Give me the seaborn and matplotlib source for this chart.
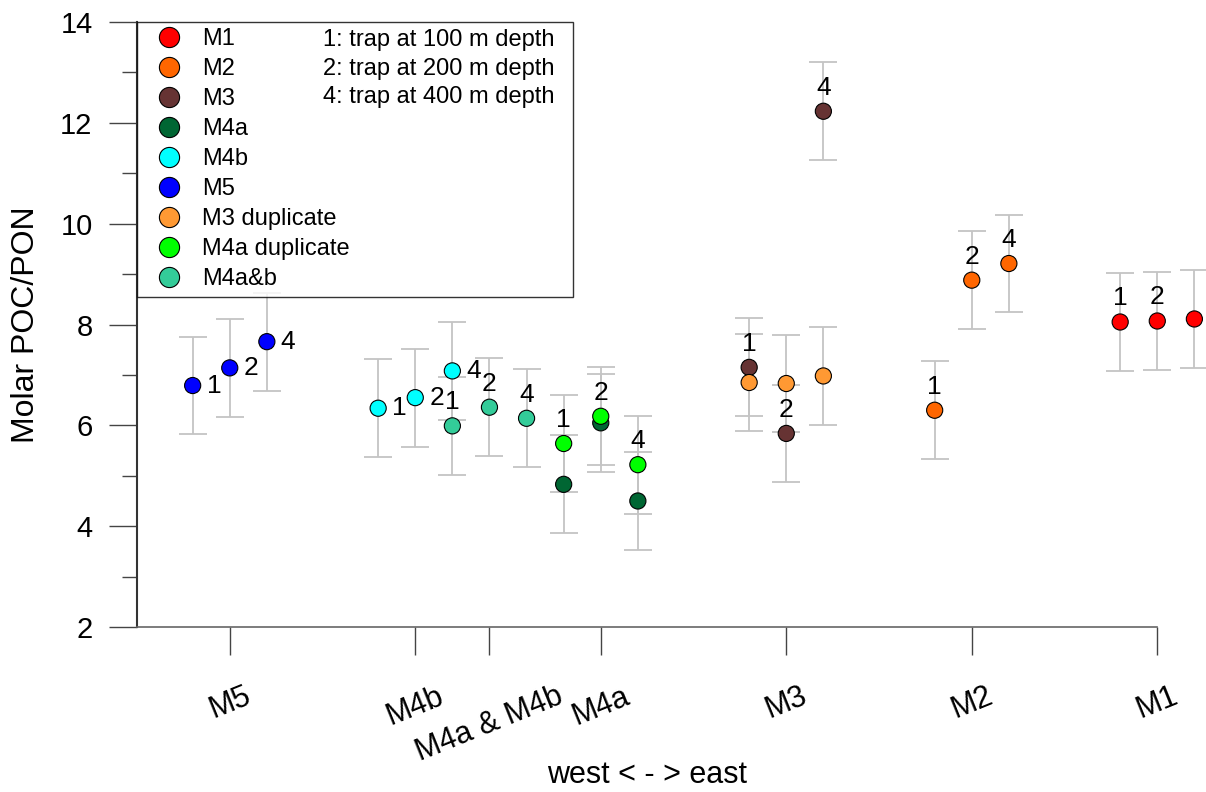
import numpy as np
import pandas as pd
import matplotlib
matplotlib.use('Agg')
import matplotlib.pyplot as plt
import seaborn as sns

# stations along the transect, west to east
stations = ['M5', 'M4b', 'M4a & M4b', 'M4a', 'M3', 'M2', 'M1']
station_pos = [1, 2, 2.4, 3, 4, 5, 6]

# series shown in the legend
series_order = ['M1', 'M2', 'M3', 'M4a', 'M4b', 'M5',
                'M3 duplicate', 'M4a duplicate', 'M4a&b']
series_colors = ['#ff0000', '#ff6600', '#663333', '#006633', '#00ffff',
                 '#0000ff', '#ff9933', '#00ff00', '#33cc99']
series_station = {'M1': 'M1', 'M2': 'M2', 'M3': 'M3', 'M4a': 'M4a',
                  'M4b': 'M4b', 'M5': 'M5', 'M3 duplicate': 'M3',
                  'M4a duplicate': 'M4a', 'M4a&b': 'M4a & M4b'}

# measurements (draw order: duplicates last so they sit on top)
point_series = ['M5', 'M5', 'M5',
                'M4b', 'M4b', 'M4b',
                'M4a&b', 'M4a&b', 'M4a&b',
                'M4a', 'M4a', 'M4a',
                'M3', 'M3', 'M3',
                'M2', 'M2', 'M2',
                'M1', 'M1', 'M1',
                'M4a duplicate', 'M4a duplicate', 'M4a duplicate',
                'M3 duplicate', 'M3 duplicate', 'M3 duplicate']
point_trap = [1, 2, 4] * 9
point_ratio = [6.79, 7.14, 7.66,
               6.34, 6.55, 7.08,
               5.99, 6.36, 6.14,
               4.83, 6.05, 4.50,
               7.15, 5.84, 12.23,
               6.30, 8.88, 9.21,
               8.05, 8.07, 8.11,
               5.64, 6.18, 5.22,
               6.85, 6.83, 6.98]
point_err = [0.97, 0.97, 0.97,
             0.97, 0.97, 0.97,
             0.97, 0.97, 0.97,
             0.97, 0.97, 0.97,
             0.97, 0.97, 0.97,
             0.97, 0.97, 0.97,
             0.97, 0.97, 0.97,
             0.97, 0.97, 0.97,
             0.97, 0.97, 0.97]

depth_notes = ['1: trap at 100 m depth',
               '2: trap at 200 m depth',
               '4: trap at 400 m depth']

trap_offset = {1: -0.2, 2: 0.0, 4: 0.2}
st_x = dict(zip(stations, station_pos))

df = pd.DataFrame({'series': point_series, 'trap': point_trap,
                   'ratio': point_ratio, 'err': point_err})
df['x'] = [st_x[series_station[s]] + trap_offset[t]
           for s, t in zip(df['series'], df['trap'])]

sns.set_style('ticks')
plt.rcParams['font.family'] = ['Liberation Sans', 'DejaVu Sans']
plt.rcParams['text.color'] = 'black'
plt.rcParams['axes.labelcolor'] = 'black'
plt.rcParams['xtick.labelcolor'] = 'black'
plt.rcParams['ytick.labelcolor'] = 'black'

fig = plt.figure(figsize=(12.06, 7.92), dpi=100)
ax = fig.add_axes([0.1136, 0.2083, 0.846, 0.7639])

# error bars
eb = ax.errorbar(df['x'], df['ratio'], yerr=df['err'], fmt='none',
                 ecolor='#c4c4c4', elinewidth=1.3, capsize=10,
                 capthick=1.3, zorder=2)
for art in eb.lines[1] + eb.lines[2]:
    art.set_clip_on(False)

sns.scatterplot(data=df, x='x', y='ratio', hue='series',
                hue_order=series_order,
                palette=dict(zip(series_order, series_colors)),
                s=135, edgecolor='black', linewidth=0.8, ax=ax,
                zorder=3, clip_on=False)

# trap depth labels
right_lab = ['M5', 'M4b']
above_lab = ['M1', 'M2', 'M3', 'M4a duplicate', 'M4a&b']
for _, r in df.iterrows():
    if r['series'] in right_lab:
        ax.annotate(str(r['trap']), (r['x'], r['ratio']),
                    xytext=(10, 0), textcoords='offset points',
                    ha='left', va='center', fontsize=19)
    elif r['series'] in above_lab:
        ax.annotate(str(r['trap']), (r['x'], r['ratio']),
                    xytext=(0, 17), textcoords='offset points',
                    ha='center', va='center', fontsize=19)

ax.set_xlim(0.5, 6)
ax.set_ylim(2, 14)
ax.set_yticks([2, 4, 6, 8, 10, 12, 14])
ax.set_yticks([3, 5, 7, 9, 11, 13], minor=True)
ax.set_xticks(station_pos)
ax.set_xticklabels(stations, rotation=22, ha='center')

ax.tick_params(axis='both', which='major', color='#444444', width=1)
ax.tick_params(axis='y', which='major', length=20, pad=12, labelsize=21)
ax.tick_params(axis='y', which='minor', length=11, color='#444444', width=1)
ax.tick_params(axis='x', which='major', length=20, pad=19, labelsize=22)

sns.despine(ax=ax)
ax.spines['left'].set_color('#333333')
ax.spines['left'].set_linewidth(1.5)
ax.spines['bottom'].set_color('#666666')
ax.spines['bottom'].set_linewidth(1.2)

ax.set_ylabel('Molar POC/PON', fontsize=23, va='center')
ax.yaxis.set_label_coords(-0.109, 0.5)
ax.set_xlabel('west < - > east', fontsize=22, va='center')
ax.xaxis.set_label_coords(0.5, -0.244)

handles, labels = ax.get_legend_handles_labels()
leg = ax.legend(handles, labels, loc='upper left',
                bbox_to_anchor=(0, 0.555, 0.427, 0.445), mode='expand',
                borderaxespad=0, frameon=True, fancybox=False,
                edgecolor='black', fontsize=17, markerscale=1.25,
                labelspacing=0.34, handletextpad=0.3, borderpad=0.26,
                handlelength=2.2)
leg.get_frame().set_linewidth(1.0)
leg.set_zorder(5)

for i, note in enumerate(depth_notes):
    ax.text(0.182, 0.970 - i * 0.0471, note, transform=ax.transAxes,
            fontsize=17, va='center', ha='left', zorder=6)

fig.savefig('out.png', dpi=100)
